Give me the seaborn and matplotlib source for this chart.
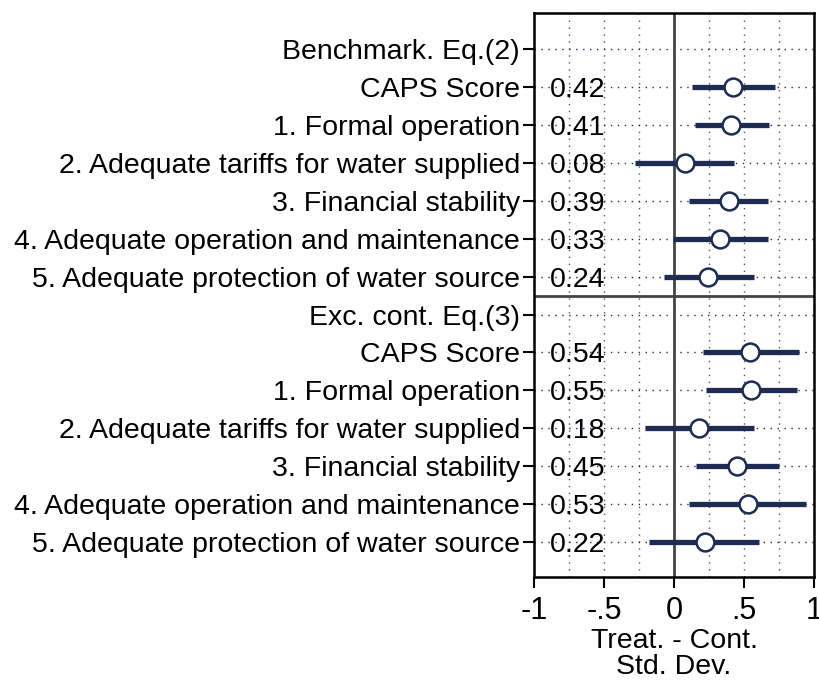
import numpy as np
import pandas as pd
import matplotlib
matplotlib.use("Agg")
import matplotlib.pyplot as plt
import seaborn as sns

# Row labels (two blocks of estimates, each introduced by a header row)
labels = [
    "Benchmark. Eq.(2)",
    "CAPS Score",
    "1. Formal operation",
    "2. Adequate tariffs for water supplied",
    "3. Financial stability",
    "4. Adequate operation and maintenance",
    "5. Adequate protection of water source",
    "Exc. cont. Eq.(3)",
    "CAPS Score",
    "1. Formal operation",
    "2. Adequate tariffs for water supplied",
    "3. Financial stability",
    "4. Adequate operation and maintenance",
    "5. Adequate protection of water source",
]

# Point estimates and 95% confidence bounds (NaN for header rows)
estimate = [np.nan, 0.42, 0.41, 0.08, 0.39, 0.33, 0.24,
            np.nan, 0.54, 0.55, 0.18, 0.45, 0.53, 0.22]
ci_low = [np.nan, 0.13, 0.15, -0.28, 0.11, -0.01, -0.07,
          np.nan, 0.21, 0.23, -0.21, 0.16, 0.11, -0.18]
ci_high = [np.nan, 0.72, 0.68, 0.43, 0.67, 0.67, 0.57,
           np.nan, 0.89, 0.88, 0.57, 0.75, 0.94, 0.61]

xticks = [-1, -0.5, 0, 0.5, 1]
xticklabels = ["-1", "-.5", "0", ".5", "1"]

df = pd.DataFrame({"row": np.arange(len(labels)), "label": labels,
                   "est": estimate, "lo": ci_low, "hi": ci_high})

sns.set_style("white")
plt.rcParams["font.family"] = ["Liberation Sans", "DejaVu Sans"]
plt.rcParams["text.color"] = "black"
plt.rcParams["xtick.color"] = "black"
plt.rcParams["ytick.color"] = "black"
plt.rcParams["axes.labelcolor"] = "black"

navy = "#1e2b52"
fs = 20.5
fig = plt.figure(figsize=(8.19, 6.83), dpi=100)
ax = fig.add_axes([0.652, 0.1552, 0.342, 0.8262])

# dotted reference grid
for gx in [-0.75, -0.5, -0.25, 0.25, 0.5, 0.75]:
    ax.axvline(gx, color="#555555", lw=1.0, ls=(0, (1, 4)), zorder=0)
for r in df["row"]:
    ax.axhline(r, color=navy, lw=1.0, ls=(0, (1, 4)), zorder=0)

ax.axvline(0, color="#444444", lw=2.0, zorder=1)
ax.axhline(6.5, color="#444444", lw=2.0, zorder=1)

est = df.dropna()
ax.hlines(est["row"], est["lo"], est["hi"], color=navy, lw=3.8, zorder=2)
sns.scatterplot(data=est, x="est", y="row", ax=ax, s=165, marker="o",
                facecolor="white", edgecolor=navy, linewidth=1.8, zorder=3,
                legend=False)

for _, r in est.iterrows():
    ax.text(-0.885, r["row"], f"{r['est']:.2f}", va="center_baseline", ha="left",
            fontsize=fs, color="black", zorder=2)

ax.set_xlim(-1, 1)
ax.set_ylim(13.92, -0.96)
ax.set_yticks(df["row"])
ax.set_yticklabels(df["label"], fontsize=fs, va="center_baseline")
ax.set_xticks(xticks)
ax.set_xticklabels(xticklabels, fontsize=22)
ax.set_xlabel("Treat. - Cont.\nStd. Dev.", fontsize=fs, labelpad=1, linespacing=1.0)
ax.set_ylabel("")
ax.tick_params(axis="y", direction="out", length=8, width=1.5, color="black",
               left=True, pad=2)
ax.tick_params(axis="x", direction="out", length=8, width=1.5, color="black",
               bottom=True, pad=6)
for s in ax.spines.values():
    s.set_color("black")
    s.set_linewidth(1.8)

fig.savefig("out.png", dpi=100)
